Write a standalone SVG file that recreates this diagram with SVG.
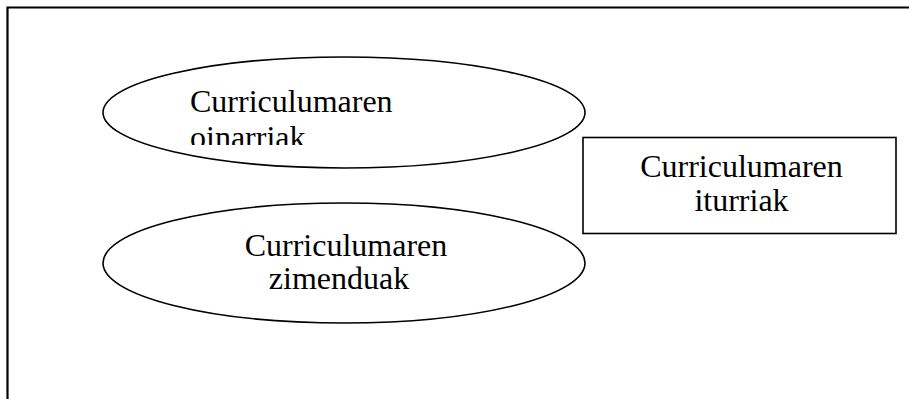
<svg xmlns="http://www.w3.org/2000/svg" width="909" height="399" viewBox="0 0 909 399">
<style>
.shape{fill:#fff;stroke:#000;stroke-width:1.6}
.frame{fill:none;stroke:#000;stroke-width:2.2}
.t{font-family:"Liberation Serif","Times New Roman",serif;font-size:32px;fill:#000}
</style>
<defs>
<clipPath id="clip1"><rect x="100" y="55" width="490" height="90"/></clipPath>
</defs>
<rect width="909" height="399" fill="#fff"/>
<g id="frame">
<path class="frame" d="M7.5 399 V7.5 H909"/>
</g>
<g id="connectors"></g>
<g id="node-oinarriak">
<ellipse class="shape" cx="344" cy="112.5" rx="241" ry="55.5"/>
<g clip-path="url(#clip1)">
<text class="t" x="190" y="111.5">Curriculumaren</text>
<text class="t" x="190" y="148">oinarriak</text>
</g>
</g>
<g id="node-zimenduak">
<ellipse class="shape" cx="344" cy="263" rx="241" ry="60"/>
<text class="t" x="346" y="255.5" text-anchor="middle">Curriculumaren</text>
<text class="t" x="339" y="288.5" text-anchor="middle">zimenduak</text>
</g>
<g id="node-iturriak">
<rect class="shape" x="583" y="137.5" width="313" height="96"/>
<text class="t" x="741.5" y="176.5" text-anchor="middle">Curriculumaren</text>
<text class="t" x="741.5" y="210.5" text-anchor="middle">iturriak</text>
</g>
</svg>
